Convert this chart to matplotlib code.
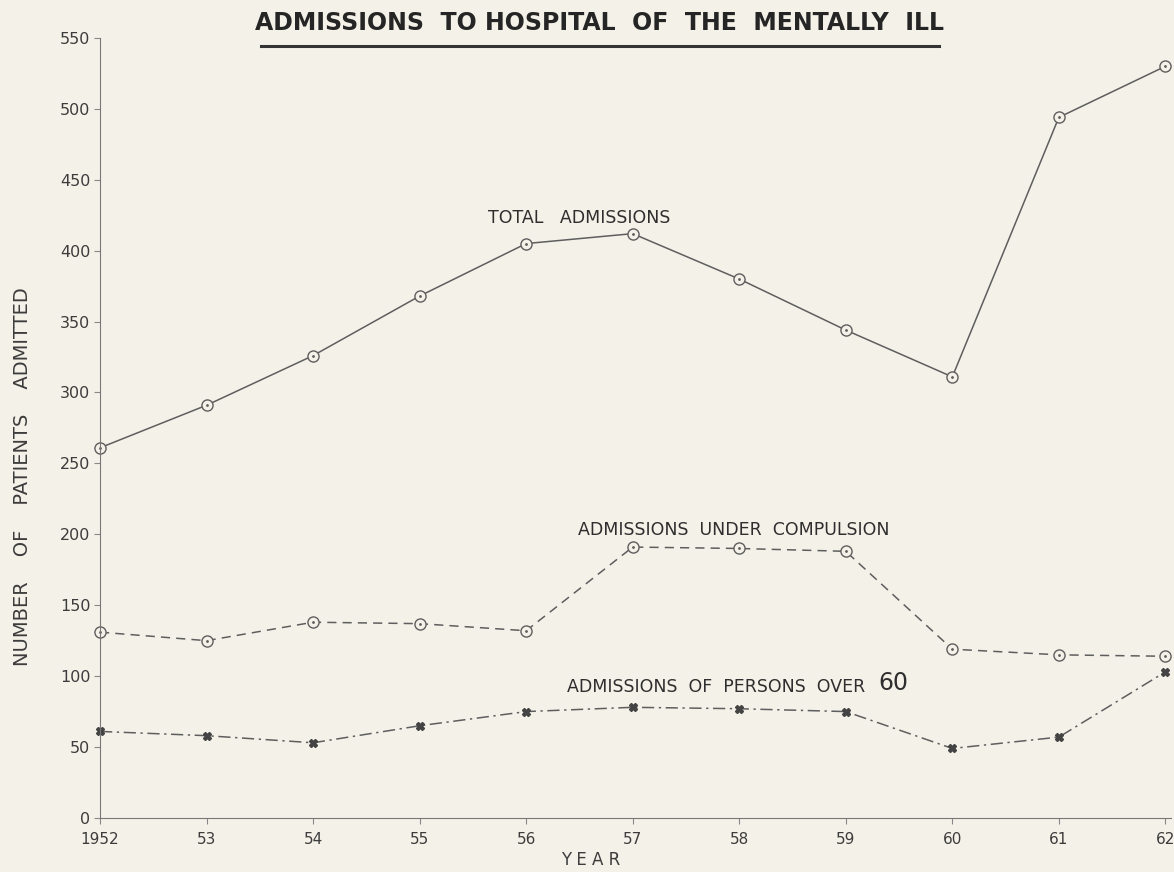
import matplotlib
matplotlib.use("Agg")
from matplotlib import pyplot as plt

# data
years = [1952, 1953, 1954, 1955, 1956, 1957, 1958, 1959, 1960, 1961, 1962]
year_labels = ["1952", "53", "54", "55", "56", "57", "58", "59", "60", "61", "62"]
total = [261, 291, 326, 368, 405, 412, 380, 344, 311, 494, 530]
compulsion = [131, 125, 138, 137, 132, 191, 190, 188, 119, 115, 114]
over60 = [61, 58, 53, 65, 75, 78, 77, 75, 49, 57, 103]

bg = "#f4f1e8"
ink = "#3c3c3c"
line_col = "#5e5e5e"

fig = plt.figure(figsize=(11.74, 8.72), dpi=100, facecolor=bg)
ax = fig.add_axes([0.0852, 0.062, 0.912, 0.8945])
ax.set_facecolor(bg)

# lines
ax.plot(years, total, color=line_col, lw=1.1, ls="-", marker="o", ms=8,
        mfc=bg, mec=line_col, mew=1.0, clip_on=False)
ax.plot(years, compulsion, color=line_col, lw=1.1, ls=(0, (6, 4)), marker="o", ms=8,
        mfc=bg, mec=line_col, mew=1.0, clip_on=False)
ax.plot(years, over60, color=line_col, lw=1.1, ls=(0, (8, 3, 1.5, 3)), marker="X", ms=6,
        mfc="#444444", mec="#444444", clip_on=False)
# little dots inside the open circles
ax.plot(years, total, ls="none", marker=".", ms=2, color=line_col, clip_on=False)
ax.plot(years, compulsion, ls="none", marker=".", ms=2, color=line_col, clip_on=False)

ax.set_xlim(1952, 1962.05)
ax.set_ylim(0, 550)
ax.spines["top"].set_visible(False)
ax.spines["right"].set_visible(False)
ax.spines["left"].set_color("#777777")
ax.spines["bottom"].set_color("#777777")

ax.set_yticks(range(0, 551, 50))
ax.set_xticks(years)
ax.set_xticklabels(year_labels)
ax.tick_params(axis="y", length=4, color="#888888", labelcolor=ink, labelsize=11.5, pad=3)
ax.tick_params(axis="x", length=4, color="#888888", labelcolor=ink, labelsize=11, pad=6)

ax.set_ylabel("NUMBER    OF    PATIENTS    ADMITTED", color=ink, fontsize=14)
ax.set_xlabel("Y E A R", color=ink, fontsize=12)
ax.yaxis.set_label_coords(-0.064, 0.438)
ax.xaxis.set_label_coords(0.458, -0.042)

# series labels
lab = dict(color="#2e2e2e", fontsize=12.5, va="center")
ax.text(1956.5, 423, "TOTAL   ADMISSIONS", ha="center", **lab)
ax.text(1957.95, 203, "ADMISSIONS  UNDER  COMPULSION", ha="center", **lab)
ax.text(1956.38, 92, "ADMISSIONS  OF  PERSONS  OVER", ha="left", **lab)
ax.text(1959.45, 95, "60", color="#2e2e2e", fontsize=17, ha="center", va="center")

# title with underline
fig.text(0.511, 0.974, "ADMISSIONS  TO HOSPITAL  OF  THE  MENTALLY  ILL", color="#252525",
         fontsize=17, fontweight="semibold", ha="center", va="center")
fig.add_artist(plt.Line2D([0.222, 0.8], [0.947, 0.947], color="#333333", lw=2.2))

plt.savefig("out.png", dpi=100, facecolor=bg)
